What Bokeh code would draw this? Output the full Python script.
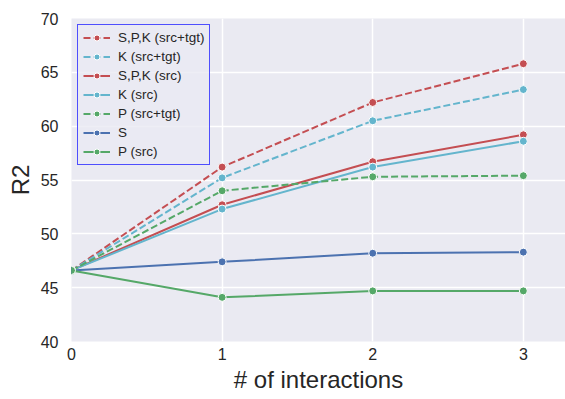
from bokeh.plotting import figure
from bokeh.models import Range1d, FixedTicker, Legend, LegendItem
from bokeh.embed import file_html
from bokeh.resources import INLINE

interactions = [0, 1, 2, 3]
spk_srctgt = [46.6, 56.2, 62.2, 65.8]
k_srctgt = [46.6, 55.2, 60.5, 63.4]
spk_src = [46.6, 52.7, 56.7, 59.2]
k_src = [46.6, 52.3, 56.2, 58.6]
p_srctgt = [46.6, 54.0, 55.3, 55.4]
s_only = [46.6, 47.4, 48.2, 48.3]
p_src = [46.6, 44.1, 44.7, 44.7]
y_ticks = [40, 45, 50, 55, 60, 65, 70]

RED, CYAN, GREEN, BLUE = "#C44E52", "#64B5CD", "#55A868", "#4C72B0"
FONT = "Liberation Sans"
TXT = "#262626"

p = figure(width=565, height=399, output_backend="svg", toolbar_location=None,
           x_range=Range1d(0, 3.28), y_range=Range1d(40, 70),
           min_border_left=71, min_border_right=0, min_border_top=18, min_border_bottom=58)
p.background_fill_color = "#EAEAF2"
p.border_fill_color = "white"
p.outline_line_color = None

for ax in (p.xaxis, p.yaxis):
    ax.axis_line_color = None
    ax.major_tick_line_color = None
    ax.minor_tick_line_color = None
    ax.major_tick_out = 0
    ax.major_tick_in = 0
    ax.major_label_text_font = FONT
    ax.major_label_text_font_size = "16px"
    ax.major_label_text_color = TXT
    ax.axis_label_text_font = FONT
    ax.axis_label_text_font_size = "24px"
    ax.axis_label_text_font_style = "normal"
    ax.axis_label_text_color = TXT
p.xaxis.ticker = FixedTicker(ticks=interactions)
p.yaxis.ticker = FixedTicker(ticks=y_ticks)
p.xaxis.axis_label = "# of interactions"
p.yaxis.axis_label = "R2"
p.xaxis.major_label_standoff = 6
p.yaxis.major_label_standoff = 13
p.xaxis.axis_label_standoff = 3
p.yaxis.axis_label_standoff = 4

p.xgrid.grid_line_color = "white"
p.ygrid.grid_line_color = "white"
p.xgrid.grid_line_width = 1.5
p.ygrid.grid_line_width = 1.5

series = [
    ("S,P,K (src+tgt)", spk_srctgt, RED, "dashed"),
    ("K (src+tgt)", k_srctgt, CYAN, "dashed"),
    ("S,P,K (src)", spk_src, RED, "solid"),
    ("K (src)", k_src, CYAN, "solid"),
    ("P (src+tgt)", p_srctgt, GREEN, "dashed"),
    ("S", s_only, BLUE, "solid"),
    ("P (src)", p_src, GREEN, "solid"),
]

items = []
for label, ys, col, dash in series:
    r1 = p.line(interactions, ys, line_color=col, line_width=2,
                line_dash="7 3" if dash == "dashed" else "solid")
    r2 = p.scatter(interactions, ys, size=8, fill_color=col, line_color="white", line_width=1)
    items.append(LegendItem(label=label, renderers=[r1, r2]))

legend = Legend(items=items, location="top_left", margin=6, padding=5,
                spacing=4, glyph_height=15, label_height=15, glyph_width=27,
                label_standoff=8, label_text_font=FONT, label_text_font_size="13.5px",
                label_text_color=TXT, background_fill_color="#EAEAF2", background_fill_alpha=0.8,
                border_line_color="#3333ff", border_line_width=1, border_line_alpha=0.85)
p.add_layout(legend, "center")

open("out.html", "w").write(file_html(p, INLINE))
